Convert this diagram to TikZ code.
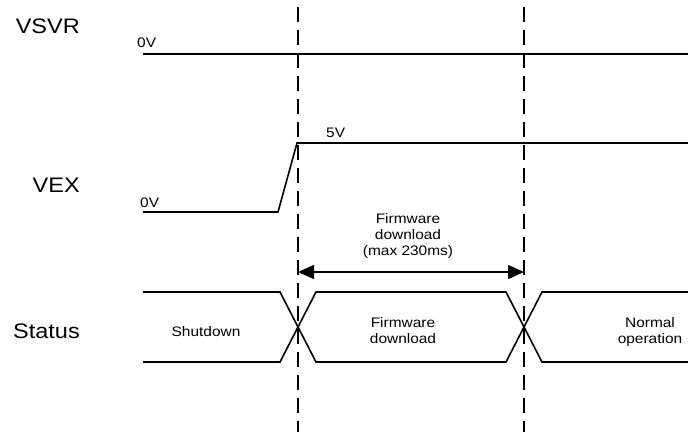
\documentclass[tikz,border=0pt]{standalone}
\usepackage{fontspec}
\setmainfont{Liberation Sans}[FakeStretch=1.12]
\usepackage{tikz}
\usetikzlibrary{arrows.meta,positioning}
\newcommand\EdgeA{298}
\newcommand\EdgeB{524}
\newcommand\Skew{18}
\newcommand\BusTop{292}
\newcommand\BusBot{362}
\newcommand\LeftEnd{143}
\newcommand\RightEnd{688}
\tikzstyle{wave}=[line width=1.6pt]
\tikzstyle{guide}=[line width=1.6pt,dash pattern=on 15pt off 8pt]
\tikzstyle{window}=[line width=1.4pt,{Triangle[length=16pt,width=14pt]}-{Triangle[length=16pt,width=14pt]}]
\tikzstyle{signame}=[inner sep=0pt,anchor=base east,font=\fontsize{21}{24}\selectfont]
\tikzstyle{volts}=[inner sep=0pt,anchor=base west,font=\fontsize{13.8}{16}\selectfont]
\tikzstyle{phase}=[inner sep=0pt,anchor=north,align=center,font=\fontsize{13.8}{16}\selectfont]

\begin{document}
\begin{tikzpicture}[x=1pt,y=-1pt]
      \useasboundingbox (0,0) rectangle (688,432);
      \node[signame] (vsvr) at (80,33) {VSVR};
      \node[signame] (vex) at (80,192) {VEX};
      \node[signame] (status) at (80,338) {Status};
      \draw[guide] (\EdgeA,7) -- (\EdgeA,432);
      \draw[guide] (\EdgeB,7) -- (\EdgeB,432);
      \draw[wave] (\LeftEnd,54) -- (\RightEnd,54);
      \node[volts] (vsvrlow) at (137,47) {0V};
      \draw[wave] (\LeftEnd,212) -- (278,212) -- (297,143) -- (\RightEnd,143);
      \node[volts] (vexlow) at (140,207) {0V};
      \node[volts] (vexhigh) at (326,137) {5V};
      \draw[wave] (\LeftEnd,\BusTop) -- (\EdgeA-\Skew,\BusTop) -- (\EdgeA+\Skew,\BusBot) -- (\EdgeB-\Skew,\BusBot)
            -- (\EdgeB+\Skew,\BusTop) -- (\RightEnd,\BusTop);
      \draw[wave] (\LeftEnd,\BusBot) -- (\EdgeA-\Skew,\BusBot) -- (\EdgeA+\Skew,\BusTop) -- (\EdgeB-\Skew,\BusTop)
            -- (\EdgeB+\Skew,\BusBot) -- (\RightEnd,\BusBot);
      \node[phase,anchor=base] (shutdown) at (206,336) {Shutdown};
      \node[phase] (download) at (403,317) {Firmware\\download};
      \node[phase] (normal) at (650,317) {Normal\\operation};
      \node[phase] (limit) at (408,213) {Firmware\\download\\(max 230ms)};
      \coordinate (startA) at (\EdgeA,272);
      \coordinate (startB) at (\EdgeB,272);
      \draw[window] (startA) -- (startB);
   \end{tikzpicture}
\end{document}
